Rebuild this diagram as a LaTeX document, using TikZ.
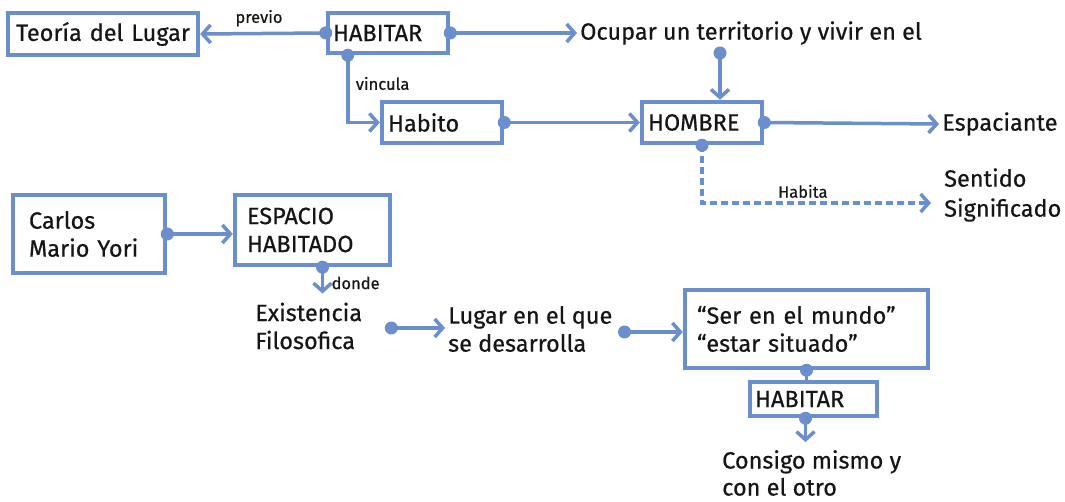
\documentclass[tikz,border=0pt]{standalone}
\usepackage{fontspec}
\setmainfont{Fira Sans}[FakeBold=0.5]
\usetikzlibrary{arrows.meta,calc}
\definecolor{lb}{RGB}{107,142,204}
\definecolor{tx}{RGB}{22,22,22}
\begin{document}
\begin{tikzpicture}[x=1pt,y=-1pt,
  font=\fontsize{23.5}{28}\selectfont, text=tx,
  box/.style={draw=lb, line width=4.5pt, inner ysep=0pt, align=left},
  lbl/.style={inner sep=3pt, align=left, anchor=west},
  conn/.style={draw=lb, line width=3.5pt, -{Straight Barb[length=8pt,width=18pt]}},
  plain/.style={draw=lb, line width=3.5pt},
  dot/.style={fill=lb},
  small/.style={font=\fontsize{16.5}{18}\selectfont}]
\fill[white] (0,0) rectangle (1065,502);
\useasboundingbox (0,0) rectangle (1065,502);

% boxes
\node[box, minimum height=42pt, text width=178pt, inner xsep=6pt, align=center] (teoria) at (103,34) {Teoría del Lugar};
\node[box, minimum height=40pt, text width=110pt, inner xsep=5pt] (hab1) at (388,33) {HABITAR};
\node[box, minimum height=41pt, text width=108pt, inner xsep=6pt] (habito) at (442,122.5) {Habito};
\node[box, minimum height=41pt, text width=108pt, inner xsep=6pt] (hombre) at (702,122.5) {HOMBRE};
\node[box, minimum height=78pt, text width=120pt, inner xsep=16pt] (carlos) at (89,234) {Carlos\\Mario Yori};
\node[box, minimum height=70pt, text width=131pt, inner xsep=12pt] (espacio) at (312.5,230) {ESPACIO\\HABITADO};
\node[box, minimum height=78pt, text width=219pt, inner xsep=12pt] (ser) at (806.5,329) {“Ser en el mundo”\\“estar situado”};
\node[box, minimum height=34pt, text width=117pt, inner xsep=5pt] (hab2) at (813.5,399) {HABITAR};

% free texts
\node[lbl] (ocupar) at (577,33) {Ocupar un territorio y vivir en el};
\node[lbl] (espaciante) at (939,124) {Espaciante};
\node[lbl, font=\fontsize{23.5}{30}\selectfont] (sentido) at (941,195) {Sentido\\Significado};
\node[lbl] (existencia) at (252,326) {Existencia\\Filosofica};
\node[lbl] (lugar) at (445,329) {Lugar en el que\\se desarrolla};
\node[lbl, font=\fontsize{23.5}{27}\selectfont] (consigo) at (719,473) {Consigo mismo y\\con el otro};

% connectors
\draw[conn] (hab1.west) -- (teoria.east) node[midway, above, small, yshift=2pt, xshift=-4pt] {previo};
\draw[conn] (hab1.east) -- (ocupar.west);
\coordinate (hv) at ($(hab1.south west)+(22,0)$);
\draw[conn] (hv) |- (habito.west) node[pos=0.21, right, small, xshift=3pt] {vincula};
\draw[conn] (habito.east) -- (hombre.west);
\coordinate (o1) at (720,53);
\draw[conn] (o1) -- (o1 |- hombre.north);
\draw[conn] (hombre.east) -- (espaciante.west);
\coordinate (dh) at ($(sentido.west)+(-10,8)$);
\draw[conn, dash pattern=on 7pt off 4pt] (hombre.south) |- (dh) node[pos=0.72, above, small] {Habita};
\draw[conn] (carlos.east) -- (carlos.east -| espacio.west);
\coordinate (ed) at ($(espacio.south)+(10,0)$);
\coordinate (ee) at ($(ed |- existencia.north)+(0,-6)$);
\draw[conn] (ed) -- (ee) node[pos=0.6, right, small, xshift=4pt] {donde};
\coordinate (ld) at ($(existencia.east)+(26,2)$);
\draw[conn] (ld) -- (ld -| lugar.west);
\coordinate (sd) at ($(lugar.east)+(9,3)$);
\draw[conn] (sd) -- (sd -| ser.west);
\draw[plain] (ser.south) -- (ser.south |- hab2.north);
\coordinate (cd) at ($(hab2.south)+(-8,0)$);
\coordinate (ce) at ($(cd |- consigo.north)+(0,-5)$);
\draw[conn] (cd) -- (ce);

% dots
\foreach \p in {hab1.west, hab1.east, hv, habito.east, o1, hombre.east, hombre.south, carlos.east, ed, ld, sd, ser.south, cd}
  \fill[dot] (\p) circle (6.5pt);
\end{tikzpicture}
\end{document}
